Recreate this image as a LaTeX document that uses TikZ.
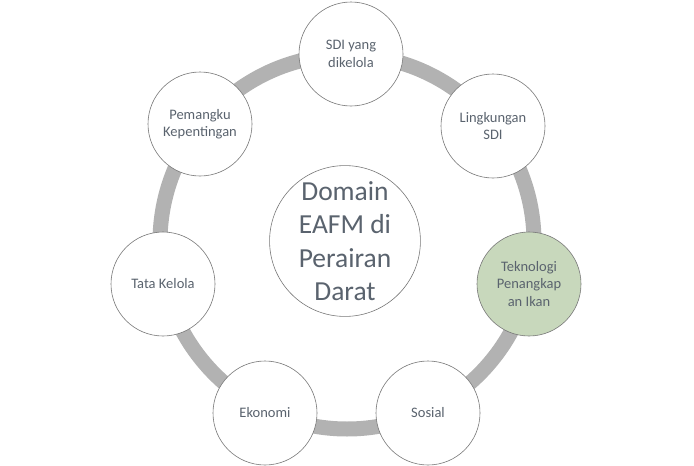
\documentclass[tikz,border=0pt]{standalone}
\usepackage{fontspec}
\setmainfont{Carlito}
\definecolor{ringgray}{RGB}{178,178,178}
\definecolor{txtgray}{RGB}{90,99,110}
\definecolor{edgegray}{RGB}{120,120,120}
\definecolor{softgreen}{RGB}{200,216,188}
\begin{document}
\begin{tikzpicture}[x=1pt,y=-1pt,
  petal/.style={circle, draw=edgegray, line width=0.6pt, fill=white,
    minimum size=104pt, inner sep=0pt, align=center, text=txtgray,
    font=\fontsize{14.5}{17.5}\selectfont},
  hub/.style={circle, draw=edgegray, line width=0.6pt, fill=white,
    minimum size=146pt, inner sep=0pt, align=center, text=txtgray,
    font=\fontsize{27.5}{33.5}\selectfont}]
\useasboundingbox (0,0) rectangle (694,466);
\coordinate (ringc) at (347,242);
\draw[line width=15pt, ringgray] (ringc) circle (187pt);
\node[hub] (hub) at (345,241) {Domain\\EAFM di\\Perairan\\Darat};
\node[petal] (sdi) at (351,54) {SDI yang\\dikelola};
\node[petal] (ling) at (493,126) {Lingkungan\\SDI};
\node[petal, fill=softgreen] (tek) at (529,284) {Teknologi\\Penangkap\\an Ikan};
\node[petal] (sos) at (428,413) {Sosial};
\node[petal] (eko) at (265,413) {Ekonomi};
\node[petal] (tata) at (163,284) {Tata Kelola};
\node[petal] (pem) at (200,124) {Pemangku\\Kepentingan};
\end{tikzpicture}
\end{document}
